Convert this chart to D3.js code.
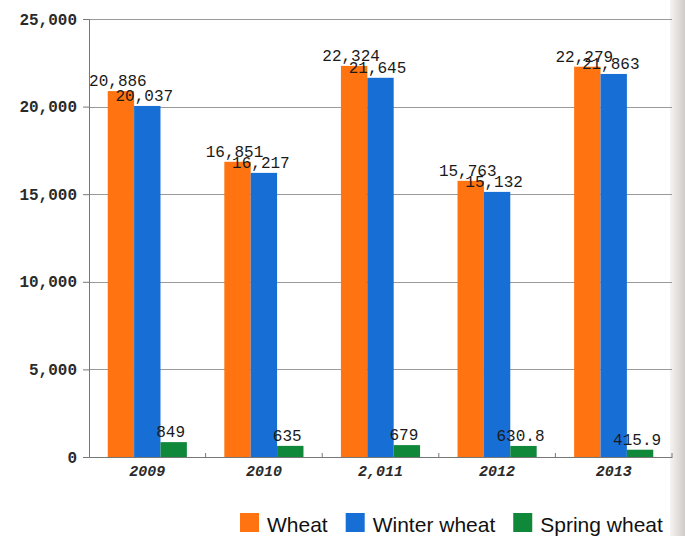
<!DOCTYPE html>
<html>
<head>
<meta charset="utf-8">
<script src="https://cdn.jsdelivr.net/npm/d3@7"></script>
<style>
  html, body { margin: 0; padding: 0; background: #fff; }
  svg { display: block; }
</style>
</head>
<body>
<svg id="chart" width="685" height="536"></svg>
<script>
const categories = ["2009", "2010", "2,011", "2012", "2013"];
const seriesNames = ["Wheat", "Winter wheat", "Spring wheat"];
const wheat = [20886, 16851, 22324, 15763, 22279];
const winterWheat = [20037, 16217, 21645, 15132, 21863];
const springWheat = [849, 635, 679, 630.8, 415.9];
const labelWheat = ["20,886", "16,851", "22,324", "15,763", "22,279"];
const labelWinter = ["20,037", "16,217", "21,645", "15,132", "21,863"];
const labelSpring = ["849", "635", "679", "630.8", "415.9"];
const yTicks = [0, 5000, 10000, 15000, 20000, 25000];
const colors = ["#ff7411", "#176fd6", "#10883a"];

const series = [wheat, winterWheat, springWheat];
const labels = [labelWheat, labelWinter, labelSpring];

const svg = d3.select("#chart");
const plotLeft = 89, plotRight = 672, plotTop = 19, plotBottom = 457;

// photo edge shading on the right
const defs = svg.append("defs");
const grad = defs.append("linearGradient").attr("id", "edge").attr("x1", "0").attr("x2", "1");
grad.append("stop").attr("offset", "0").attr("stop-color", "#f6f4f2");
grad.append("stop").attr("offset", "1").attr("stop-color", "#cfccc9");
svg.append("rect").attr("x", 670).attr("y", 0).attr("width", 15).attr("height", 536).attr("fill", "url(#edge)");

const y = d3.scaleLinear().domain([0, 25000]).range([plotBottom, plotTop]);
const x0 = d3.scaleBand().domain(categories).range([plotLeft, plotRight]).paddingInner(0).paddingOuter(0);
const x1 = d3.scaleBand().domain(seriesNames).range([0, x0.bandwidth()]).paddingInner(0).paddingOuter(0.71);

// gridlines
svg.append("g").selectAll("line").data(yTicks.filter(d => d > 0)).join("line")
  .attr("x1", plotLeft).attr("x2", plotRight)
  .attr("y1", d => Math.round(y(d)) + 0.5).attr("y2", d => Math.round(y(d)) + 0.5)
  .attr("stroke", "#9a9a9a").attr("stroke-width", 1);

// bars
const rows = (d, i) => seriesNames.map((s, j) => ({ s, j, v: series[j][i], l: labels[j][i] }));
const groups = svg.append("g").selectAll("g").data(categories).join("g")
  .attr("transform", d => `translate(${x0(d)},0)`);
groups.selectAll("rect").data(rows)
  .join("rect")
  .attr("x", d => x1(d.s))
  .attr("y", d => y(d.v))
  .attr("width", x1.bandwidth())
  .attr("height", d => plotBottom - y(d.v))
  .attr("fill", d => colors[d.j]);

// y axis
const yAxis = d3.axisLeft(y).tickValues(yTicks).tickSize(6).tickPadding(6)
  .tickFormat(d3.format(","));
const gy = svg.append("g").attr("transform", `translate(${plotLeft},0)`).call(yAxis);
gy.select(".domain").attr("stroke", "#777");
gy.selectAll(".tick line").attr("stroke", "#777");
gy.selectAll(".tick text").attr("font-family", "Liberation Mono, monospace")
  .attr("font-size", 16).attr("fill", "#2a2a2a").attr("font-weight", "bold");

// x axis
const xAxis = d3.axisBottom(x0).tickSize(0).tickPadding(8);
const gx = svg.append("g").attr("transform", `translate(0,${plotBottom})`).call(xAxis);
gx.select(".domain").attr("stroke", "#777");
gx.selectAll(".tick text").attr("font-family", "Liberation Mono, monospace")
  .attr("font-size", 15).attr("font-style", "italic").attr("font-weight", "bold").attr("fill", "#2a2a2a");
// category boundary ticks
svg.append("g").selectAll("line").data(categories).join("line")
  .attr("x1", d => x0(d) + x0.bandwidth()).attr("x2", d => x0(d) + x0.bandwidth())
  .attr("y1", plotBottom).attr("y2", plotBottom - 4)
  .attr("stroke", "#777");

// data labels
groups.selectAll("text.lbl").data(rows)
  .join("text").attr("class", "lbl")
  .attr("x", d => x1(d.s) + x1.bandwidth() / 2 - 3)
  .attr("y", d => y(d.v) - 5)
  .attr("text-anchor", "middle")
  .attr("font-family", "Liberation Mono, monospace")
  .attr("font-size", 16)
  .attr("fill", "#1a1a1a")
  .text(d => d.l);

// legend
const legend = svg.append("g");
let lx = 240;
seriesNames.forEach((s, j) => {
  legend.append("rect").attr("x", lx).attr("y", 513).attr("width", 19).attr("height", 19).attr("fill", colors[j]);
  const t = legend.append("text").attr("x", lx + 27).attr("y", 532)
    .attr("font-family", "Liberation Sans, Arial, sans-serif").attr("font-size", 21)
    .attr("fill", "#111").text(s);
  lx = lx + 27 + t.node().getComputedTextLength() + 18;
});
</script>
</body>
</html>
